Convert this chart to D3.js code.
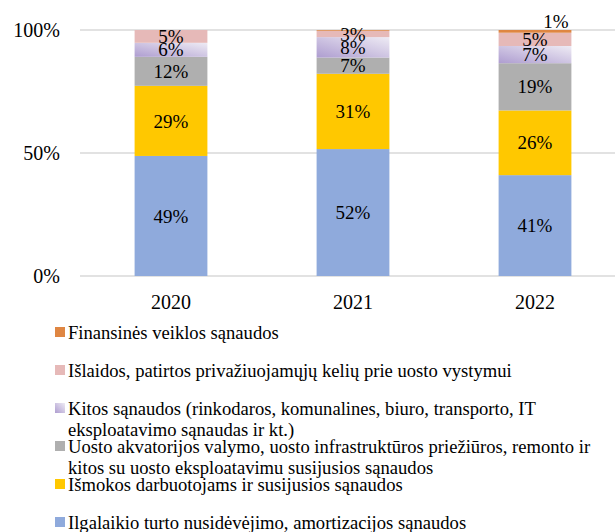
<!DOCTYPE html>
<html>
<head>
<meta charset="utf-8">
<script src="https://cdn.jsdelivr.net/npm/d3@7"></script>
<style>
  body { margin: 0; background: #fff; }
  svg text { font-family: "Liberation Serif", "Times New Roman", "DejaVu Serif", serif; fill: #000; }
</style>
</head>
<body>
<svg id="chart"></svg>
<script>
const years = ["2020", "2021", "2022"];
const seriesKeys = ["ilg", "ism", "uos", "kit", "isl", "fin"];
const seriesNames = [
  ["Ilgalaikio turto nusidėvėjimo, amortizacijos sąnaudos"],
  ["Išmokos darbuotojams ir susijusios sąnaudos"],
  ["Uosto akvatorijos valymo, uosto infrastruktūros priežiūros, remonto ir", "kitos su uosto eksploatavimu susijusios sąnaudos"],
  ["Kitos sąnaudos (rinkodaros, komunalines, biuro, transporto, IT", "eksploatavimo sąnaudas ir kt.)"],
  ["Išlaidos, patirtos privažiuojamųjų kelių prie uosto vystymui"],
  ["Finansinės veiklos sąnaudos"]
];
// shares per year, %
const ilg = [48.8, 51.6, 41.0];
const ism = [28.5, 30.6, 26.3];
const uos = [11.8, 6.6, 19.2];
const kit = [5.7, 8.3, 7.0];
const isl = [5.2, 2.6, 5.4];
const fin = [0.0, 0.3, 1.1];
const yTicks = [0, 50, 100];

const colors = ["#8faadc", "#ffc800", "#afafaf", "url(#purpleGrad)", "#e6b9b8", "#df8642"];

const size = { width: 615, height: 532 };
const plot = { left: 80, right: 626, top: 30, bottom: 276 };

const values = [ilg, ism, uos, kit, isl, fin];
const rows = years.map((yr, i) => {
  const r = { year: yr };
  seriesKeys.forEach((k, j) => r[k] = values[j][i]);
  return r;
});

const svg = d3.select("#chart")
  .attr("width", size.width)
  .attr("height", size.height)
  .attr("font-family", "Liberation Serif, serif");

const grad = svg.append("defs").append("linearGradient")
  .attr("id", "purpleGrad")
  .attr("x1", 0).attr("y1", 1).attr("x2", 1).attr("y2", 0);
grad.append("stop").attr("offset", "0%").attr("stop-color", "#ae9dd0");
grad.append("stop").attr("offset", "100%").attr("stop-color", "#eeebf4");

const x = d3.scaleBand()
  .domain(years)
  .range([plot.left, plot.right])
  .paddingInner(0.6)
  .paddingOuter(0.3);

const y = d3.scaleLinear()
  .domain([0, 100])
  .range([plot.bottom, plot.top]);

// gridlines
svg.append("g")
  .selectAll("line")
  .data(yTicks)
  .join("line")
  .attr("x1", plot.left)
  .attr("x2", size.width)
  .attr("y1", d => y(d))
  .attr("y2", d => y(d))
  .attr("stroke", "#d9d9d9")
  .attr("stroke-width", 1.5);

// y axis labels
svg.append("g")
  .selectAll("text")
  .data(yTicks)
  .join("text")
  .attr("x", 60)
  .attr("y", d => y(d))
  .attr("dy", "0.35em")
  .attr("text-anchor", "end")
  .style("font-size", "20px")
  .text(d => d + "%");

// x axis labels
svg.append("g")
  .selectAll("text")
  .data(years)
  .join("text")
  .attr("x", d => x(d) + x.bandwidth() / 2)
  .attr("y", 302)
  .attr("dy", "0.35em")
  .attr("text-anchor", "middle")
  .style("font-size", "20px")
  .text(d => d);

const stacked = d3.stack().keys(seriesKeys)(rows);

const layers = svg.append("g")
  .selectAll("g")
  .data(stacked)
  .join("g")
  .attr("fill", (d, i) => colors[i]);

layers.selectAll("rect")
  .data(d => d)
  .join("rect")
  .attr("x", d => x(d.data.year))
  .attr("width", x.bandwidth())
  .attr("y", d => y(d[1]))
  .attr("height", d => y(d[0]) - y(d[1]));

// value labels
const labels = [];
stacked.forEach(layer => layer.forEach(d => {
  const v = d[1] - d[0];
  if (Math.round(v) < 1) return;
  labels.push({ year: d.data.year, v, lo: d[0], hi: d[1] });
}));

svg.append("g")
  .selectAll("text")
  .data(labels)
  .join("text")
  .attr("x", d => x(d.year) + x.bandwidth() / 2 + (d.v < 2 ? 21 : 0))
  .attr("y", d => d.v < 2 ? y(d.hi) - 9 : y((d.lo + d.hi) / 2))
  .attr("dy", "0.35em")
  .attr("text-anchor", "middle")
  .style("font-size", "19px")
  .text(d => Math.round(d.v) + "%");

// legend (top series first)
const legendOrder = d3.range(seriesKeys.length).reverse();
const legend = svg.append("g")
  .selectAll("g")
  .data(legendOrder)
  .join("g")
  .attr("transform", (d, i) => `translate(55, ${332 + i * 38})`);

legend.append("rect")
  .attr("x", 0)
  .attr("y", -5)
  .attr("width", 10)
  .attr("height", 10)
  .attr("fill", d => colors[d]);

legend.append("text")
  .style("font-size", "18.6px")
  .selectAll("tspan")
  .data(d => seriesNames[d])
  .join("tspan")
  .attr("x", 13)
  .attr("y", (d, i) => i * 21)
  .attr("dy", "0.35em")
  .text(d => d);
</script>
</body>
</html>
